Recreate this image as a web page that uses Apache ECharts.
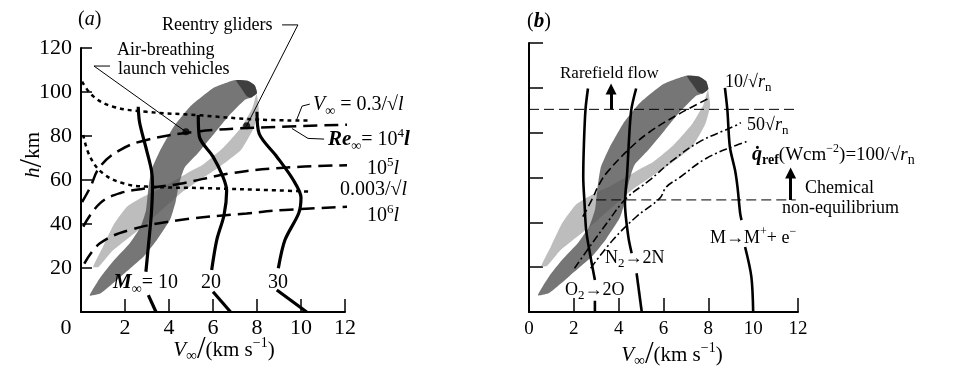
<!DOCTYPE html>
<html>
<head>
<meta charset="utf-8">
<script src="https://cdn.jsdelivr.net/npm/echarts@6/dist/echarts.min.js"></script>
<style>
  html, body { margin: 0; padding: 0; background: #fff; }
  #main { width: 954px; height: 372px; }
</style>
</head>
<body>
<div id="main"></div>
<script>
// all curves are [V (km/s), h (km)]
const xTicks = [0, 2, 4, 6, 8, 10, 12];
const yTicks = [0, 20, 40, 60, 80, 100, 120];

// shaded corridors (same in both panels)
const darkBand = [[0.4,7.5],[0.9,16],[1.5,23.5],[2.2,31],[2.7,38.5],[2.95,46],[3.05,55],[3.2,64.5],[3.6,73.5],[4.2,84],[4.95,93.3],[6.0,101.7],[7.0,105.4],[7.6,105],[7.9,103],[8.0,99.5],[7.75,97.5],
  [7.45,96.5],[6.75,89.5],[6.05,81],[5.3,72],[4.7,65.5],[4.45,58],[4.3,50],[4.05,42],[3.45,32.7],[2.85,25.2],[1.8,16],[0.9,8.5]];
const lightBand = [[0.55,20.5],[1.0,29.7],[1.5,40],[2.1,48],[2.85,52.5],[3.5,55.5],[4.3,60],[4.9,63.5],[5.55,67],[6.45,74.5],[7.25,83.5],[7.78,92.5],[7.98,99],
  [8.08,92],[7.87,84],[7.27,73.6],[6.3,66],[5.4,60],[4.6,54.5],[3.8,47.5],[3.0,40.5],[2.2,34],[1.4,27.5],[0.8,20.5]];
const darkCap = [[7.05,105.3],[7.6,105],[7.9,103],[8.0,99.5],[7.75,97.5],[7.55,98],[7.3,101.5]];

// panel (a)
const vLine03 = [[0.05,104.7],[0.56,98],[1.47,93.3],[2.98,91],[5.26,89.5],[7.98,87.5],[10.4,87]];
const vLine0003 = [[0.1,80.5],[0.41,70.6],[1.0,63],[1.92,58.5],[2.98,57],[5.7,56.3],[8.9,55.3],[10.4,54.7]];
const re1e4 = [[0.05,50],[0.41,56.5],[0.86,66],[1.77,73.6],[2.98,78.2],[5.26,82],[7.98,83.8],[12.45,85.2]];
const re1e5 = [[0.1,38.8],[0.86,49.4],[1.77,54],[2.98,56.2],[4.5,58.3],[6.77,63],[9.05,65.5],[12.45,66.8]];
const re1e6 = [[0.15,22],[0.86,31.2],[2.23,37.3],[4.5,41.8],[7.53,44.8],[9.27,46.4],[12.2,47.9]];
const mach10Up = [[2.6,93.3],[2.65,87],[2.76,82],[2.98,73.6],[3.2,64.5],[3.25,58],[3.2,45],[3.06,29.7],[2.95,18.3]];
const mach10Low = [[3.06,7.7],[3.41,0]];
const mach20Up = [[5.33,89.5],[5.38,79.7],[6.0,70.6],[6.45,61.5],[6.62,55],[6.5,44],[6.17,32.7],[5.94,19.1]];
const mach20Low = [[6.0,9.2],[6.8,0]];
const mach30Up = [[8.0,91],[8.1,81],[8.9,70.6],[9.65,60],[10.0,52],[9.9,45],[9.27,32.7],[8.97,19.9]];
const mach30Low = [[8.9,10],[10.26,0]];
const vehicleDots = [[4.77,81.9],[7.53,84.7]];
const leaderGliders = [[9.14,130.5],[9.86,130.5],[7.53,84.7]];
const leaderLaunch = [[1.32,111.8],[0.59,111.8],[4.77,81.9]];
const leaderV = [[9.8,87.3],[10.05,93.6],[10.4,94.5]];
const leaderRe = [[9.59,83.4],[10.32,78.9],[11.05,78.6]];

// panel (b)
const o2Up = [[2.63,99.7],[2.52,90.3],[2.45,75],[2.42,60.3],[2.48,48],[2.55,36.5],[2.72,26],[2.94,14.3]];
const o2Low = [[2.94,5],[2.94,0]];
const n2Up = [[4.78,99.7],[4.56,90],[4.45,75],[4.38,62],[4.28,48.5],[4.43,33.6],[4.58,26.2]];
const n2Low = [[4.8,17.3],[5.03,0]];
const ionUp = [[8.74,100],[8.85,90],[8.96,73.7],[9.19,63.3],[9.3,55.8],[9.42,44],[9.48,41]];
const ionLow = [[9.64,29],[9.92,15.7],[10.0,0]];
const q10 = [[2.4,42.5],[2.8,50],[3.15,57.3],[3.5,62.5],[4.5,73],[5.38,80.3],[6.72,88.5],[8.0,95.2]];
const q50 = [[2.03,19.5],[2.7,29],[3.5,40],[4.34,50.7],[5.38,58.8],[6.42,67.7],[7.6,75.9],[9.25,83.3],[9.45,84.5]];
const q100 = [[2.75,19.5],[3.74,32.1],[4.79,42.5],[5.83,50.7],[6.13,55.8],[6.72,60],[7.9,68.5],[9.25,74.4],[9.7,76]];
const rarefiedLine = [[0,90.4],[11.95,90.4]];
const chemLine = [[3.0,50],[11.9,50]];
const rarefiedArrow = [[3.66,90.4],[3.66,99.5]];
const chemArrow = [[11.67,50],[11.67,62]];

const SERIF = '"Liberation Serif", "DejaVu Serif", serif';

function rich(sz) {
  const lh = sz + 6;
  return {
    i: { fontFamily: SERIF, fontSize: sz, fontStyle: 'italic', lineHeight: lh },
    bi: { fontFamily: SERIF, fontSize: sz + 1, fontStyle: 'italic', fontWeight: 'bold', lineHeight: lh },
    sub: { fontFamily: SERIF, fontSize: Math.round(sz * 0.72), verticalAlign: 'bottom', lineHeight: lh },
    subb: { fontFamily: SERIF, fontSize: Math.round(sz * 0.72), fontWeight: 'bold', verticalAlign: 'bottom', lineHeight: lh },
    sup: { fontFamily: SERIF, fontSize: Math.round(sz * 0.65), verticalAlign: 'top', lineHeight: lh },
    sl: { fontFamily: SERIF, fontSize: sz + 10, lineHeight: lh }
  };
}

function txt(x, y, text, sz, align, extra) {
  return Object.assign({
    type: 'text', x: x, y: y, silent: true, z: 100,
    style: {
      text: text, fill: '#000', fontFamily: SERIF, fontSize: sz, lineHeight: sz + 6,
      align: align || 'left', verticalAlign: 'middle', rich: rich(sz)
    }
  }, extra || {});
}

function curve(data, xi, width, dash, smooth, noClip) {
  return {
    type: 'line', xAxisIndex: xi, yAxisIndex: xi, data: data, showSymbol: false, symbol: 'none',
    smooth: smooth, clip: !noClip, silent: true, z: 5,
    lineStyle: { color: '#000', width: width, type: dash || 'solid' }
  };
}

function band(pts, xi, fill, z) {
  return {
    type: 'custom', coordinateSystem: 'cartesian2d', xAxisIndex: xi, yAxisIndex: xi, silent: true, z: z,
    data: pts,
    renderItem: function (params, api) {
      if (params.dataIndex !== 0) return;
      const points = pts.map(p => api.coord(p));
      return { type: 'polygon', shape: { points: points, smooth: 0.15 }, style: { fill: fill } };
    }
  };
}

function xAx(gi, fs, margin, tickLen, hideZero) {
  return {
    gridIndex: gi, type: 'value', min: 0, max: 12, interval: 2,
    axisLine: { show: true, onZero: false, lineStyle: { color: '#000', width: 2 } },
    axisTick: { show: true, inside: true, length: tickLen, lineStyle: { color: '#000', width: 1.5 } },
    splitLine: { show: false },
    axisLabel: { color: '#000', fontFamily: SERIF, fontSize: fs, margin: margin,
      formatter: v => (hideZero && v === 0) ? '' : String(v) }
  };
}

function yAx(gi, showLabels, tickLen) {
  return {
    gridIndex: gi, type: 'value', min: 0, max: 120, interval: 20,
    axisLine: { show: true, onZero: false, lineStyle: { color: '#000', width: 2 } },
    axisTick: { show: true, inside: true, length: tickLen, lineStyle: { color: '#000', width: 1.5 } },
    splitLine: { show: false },
    axisLabel: { show: showLabels, color: '#000', fontFamily: SERIF, fontSize: 22, margin: 9,
      formatter: v => v === 0 ? '' : String(v) }
  };
}

const DOT = [4, 4];
const LONG = [14, 7];
const LIGHT = '#bdbdbd';
const DARK = 'rgba(80,80,80,0.78)';
const CAP = 'rgba(50,50,50,0.8)';

const series = [
  // panel (a)
  band(lightBand, 0, LIGHT, 1),
  band(darkBand, 0, DARK, 2),
  band(darkCap, 0, CAP, 3),
  curve(vLine03, 0, 2.5, DOT, 0.4),
  curve(vLine0003, 0, 2.5, DOT, 0.4),
  curve(re1e4, 0, 2.5, LONG, 0.4, true),
  curve(re1e5, 0, 2.5, LONG, 0.4, true),
  curve(re1e6, 0, 2.5, LONG, 0.4, true),
  curve(mach10Up, 0, 3.2, 'solid', 0.3),
  curve(mach10Low, 0, 3.2, 'solid', 0),
  curve(mach20Up, 0, 3.2, 'solid', 0.3),
  curve(mach20Low, 0, 3.2, 'solid', 0),
  curve(mach30Up, 0, 3.2, 'solid', 0.3),
  curve(mach30Low, 0, 3.2, 'solid', 0),
  curve(leaderGliders, 0, 1, 'solid', 0, true),
  curve(leaderLaunch, 0, 1, 'solid', 0, true),
  curve(leaderV, 0, 1, 'solid', 0, true),
  curve(leaderRe, 0, 1, 'solid', 0, true),
  { type: 'scatter', xAxisIndex: 0, yAxisIndex: 0, data: vehicleDots, symbolSize: 7, silent: true, z: 6,
    itemStyle: { color: '#000' } },
  // panel (b)
  band(lightBand, 1, LIGHT, 1),
  band(darkBand, 1, DARK, 2),
  band(darkCap, 1, CAP, 3),
  curve(rarefiedLine, 1, 1, [10, 5], 0),
  curve(chemLine, 1, 1, [10, 5], 0),
  curve(q10, 1, 1.6, [8, 4], 0.4),
  curve(q50, 1, 1.6, [8, 3, 2, 3], 0.4),
  curve(q100, 1, 1.6, [8, 3, 2, 3], 0.4),
  curve(o2Up, 1, 2.6, 'solid', 0.3),
  curve(o2Low, 1, 2.6, 'solid', 0),
  curve(n2Up, 1, 2.6, 'solid', 0.3),
  curve(n2Low, 1, 2.6, 'solid', 0),
  curve(ionUp, 1, 2.6, 'solid', 0.3),
  curve(ionLow, 1, 2.6, 'solid', 0.3),
  { type: 'lines', coordinateSystem: 'cartesian2d', xAxisIndex: 1, yAxisIndex: 1, silent: true, z: 6,
    symbol: ['none', 'triangle'], symbolSize: [9, 11],
    lineStyle: { color: '#000', width: 3, opacity: 1 },
    data: [{ coords: rarefiedArrow }, { coords: chemArrow }] }
];

const graphics = [
  // panel (a)
  txt(78, 20, '({i|a})', 20),
  txt(162, 25, 'Reentry gliders', 18),
  txt(117, 50, 'Air-breathing', 18),
  txt(118, 69, 'launch vehicles', 18),
  txt(313, 105, '{i|V}{sub|∞} = 0.3/√{i|l}', 20),
  txt(328, 140, '{bi|Re}{sub|∞}= 10{sup|4}{bi|l}', 20),
  txt(367, 169, '10{sup|5}{i|l}', 20),
  txt(340, 190, '0.003/√{i|l}', 20),
  txt(367, 216, '10{sup|6}{i|l}', 20),
  txt(113, 283, '{bi|M}{sub|∞}= 10', 20),
  txt(211, 283, '20', 20, 'center'),
  txt(278, 283, '30', 20, 'center'),
  txt(66, 328, '0', 22, 'center'),
  txt(33, 155, '{i|h}{sl|/}km', 21, 'center', { rotation: Math.PI / 2 }),
  txt(224, 350, '{i|V}{sub|∞}{sl|/}(km s{sup|−1})', 21, 'center'),
  // panel (b)
  txt(527, 22, '({bi|b})', 20),
  txt(560, 74, 'Rarefield flow', 17),
  txt(725, 82, '10/√{i|r}{sub|n}', 18),
  txt(747, 125, '50√{i|r}{sub|n}', 18),
  txt(752, 155, '{bi|q̇}{subb|ref}(Wcm{sup|−2})=100/√{i|r}{sub|n}', 19),
  txt(805, 188, 'Chemical', 18),
  txt(782, 208, 'non-equilibrium', 18),
  txt(710, 238, 'M→M{sup|+}+ e{sup|−}', 18),
  txt(605, 258, 'N{sub|2}→2N', 18),
  txt(565, 290, 'O{sub|2}→2O', 18),
  txt(672, 355, '{i|V}{sub|∞}{sl|/}(km s{sup|−1})', 21, 'center')
];

const chart = echarts.init(document.getElementById('main'), null, { renderer: 'canvas' });
chart.setOption({
  animation: false,
  backgroundColor: '#fff',
  grid: [
    { left: 81, top: 48, width: 264, height: 264 },
    { left: 529, top: 43, width: 269, height: 269 }
  ],
  xAxis: [xAx(0, 22, 5, 13, true), xAx(1, 19, 8, 14, false)],
  yAxis: [yAx(0, true, 11), yAx(1, false, 14)],
  series: series,
  graphic: graphics
});
</script>
</body>
</html>
